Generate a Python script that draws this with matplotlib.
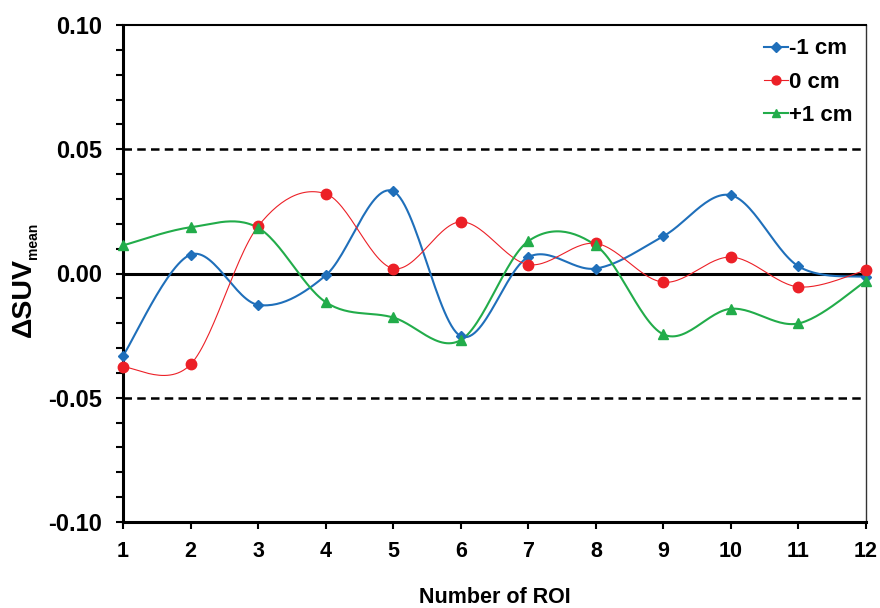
import numpy as np
import matplotlib
matplotlib.use("Agg")
import matplotlib.pyplot as plt

plt.rcParams['font.family'] = ['Liberation Sans', 'DejaVu Sans']
plt.rcParams['font.weight'] = 'bold'

roi = [1, 2, 3, 4, 5, 6, 7, 8, 9, 10, 11, 12]
minus1 = [-0.0331, 0.0076, -0.0126, -0.0008, 0.0331, -0.0252, 0.0066, 0.0020, 0.0150, 0.0315, 0.0029, -0.0014]
zero = [-0.0376, -0.0366, 0.0190, 0.0321, 0.0020, 0.0208, 0.0036, 0.0121, -0.0035, 0.0066, -0.0054, 0.0014]
plus1 = [0.0113, 0.0186, 0.0184, -0.0115, -0.0177, -0.0268, 0.0130, 0.0113, -0.0245, -0.0142, -0.0201, -0.0030]


def smooth(x, y, n=30):
    # Excel-style smoothed line (Catmull-Rom through the points)
    x = np.asarray(x, float)
    y = np.asarray(y, float)
    px = np.concatenate([[x[0]], x, [x[-1]]])
    py = np.concatenate([[y[0]], y, [y[-1]]])
    xs, ys = [], []
    t = np.linspace(0, 1, n)
    for i in range(1, len(px) - 2):
        p0, p1, p2, p3 = px[i-1], px[i], px[i+1], px[i+2]
        q0, q1, q2, q3 = py[i-1], py[i], py[i+1], py[i+2]
        bx = [p1, p1 + (p2 - p0) / 6, p2 - (p3 - p1) / 6, p2]
        by = [q1, q1 + (q2 - q0) / 6, q2 - (q3 - q1) / 6, q2]
        b = [(1-t)**3, 3*(1-t)**2*t, 3*(1-t)*t**2, t**3]
        xs.append(sum(b[k]*bx[k] for k in range(4)))
        ys.append(sum(b[k]*by[k] for k in range(4)))
    return np.concatenate(xs), np.concatenate(ys)


W, H = 880, 608
fig = plt.figure(figsize=(8.8, 6.08), dpi=100)
ax = fig.add_axes([123/W, 1 - 522/H, (866-123)/W, (522-25)/H])

ax.axhline(0.05, color='black', lw=1.8, ls=(0, (3.4, 2.1)), zorder=1)
ax.axhline(-0.05, color='black', lw=1.8, ls=(0, (3.4, 2.1)), zorder=1)
ax.axhline(0, color='black', lw=2.2, zorder=1)

series = [
    (minus1, '#1f6fba', 'D', 5.5, 1.5, '-1 cm'),
    (zero, '#ec2027', 'o', 7.5, 0.8, '0 cm'),
    (plus1, '#22ac4a', '^', 7.5, 1.5, '+1 cm'),
]
for vals, col, mk, ms, lw, lab in series:
    sx, sy = smooth(roi, vals)
    ax.plot(sx, sy, color=col, lw=lw, zorder=2)
    ax.plot(roi, vals, ls='none', marker=mk, ms=ms, color=col, zorder=3, clip_on=False)
    ax.plot([], [], color=col, lw=lw, marker=mk, ms=ms * 0.85, label=lab)

ax.set_xlim(1, 12)
ax.set_ylim(-0.10, 0.10)
ax.set_xticks(roi)
ax.set_yticks([-0.10, -0.05, 0.0, 0.05, 0.10])
ax.set_yticks(np.arange(-0.10, 0.1001, 0.01), minor=True)
ax.yaxis.set_major_formatter(matplotlib.ticker.FormatStrFormatter('%.2f'))
ax.tick_params(axis='both', which='both', width=1.5, length=5, direction='out')
ax.tick_params(axis='x', labelsize=15.5, pad=9)
ax.tick_params(axis='y', labelsize=17, pad=10)

for s in ['left', 'bottom']:
    ax.spines[s].set_linewidth(2.2)
ax.spines['top'].set_linewidth(1.5)
ax.spines['right'].set_linewidth(1.0)
ax.spines['right'].set_color('#333333')

# axis titles
fig.text(0.5 * (123 + 866) / W, 1 - 603 / H, 'Number of ROI', fontsize=15.5,
         fontweight='bold', ha='center', va='baseline')
fig.text(24 / W, 1 - 337 / H, '\u0394SUV', fontsize=20.5, fontweight='bold',
         rotation=90, ha='center', va='bottom')
fig.text(33 / W, 1 - 259 / H, 'mean', fontsize=10, fontweight='bold',
         rotation=90, ha='center', va='bottom')

leg = ax.legend(loc='upper right', frameon=False, fontsize=16, handlelength=1.1,
                handletextpad=0.05, borderaxespad=0.4, labelspacing=0.55,
                borderpad=0.2)

fig.savefig('out.png', dpi=100)
